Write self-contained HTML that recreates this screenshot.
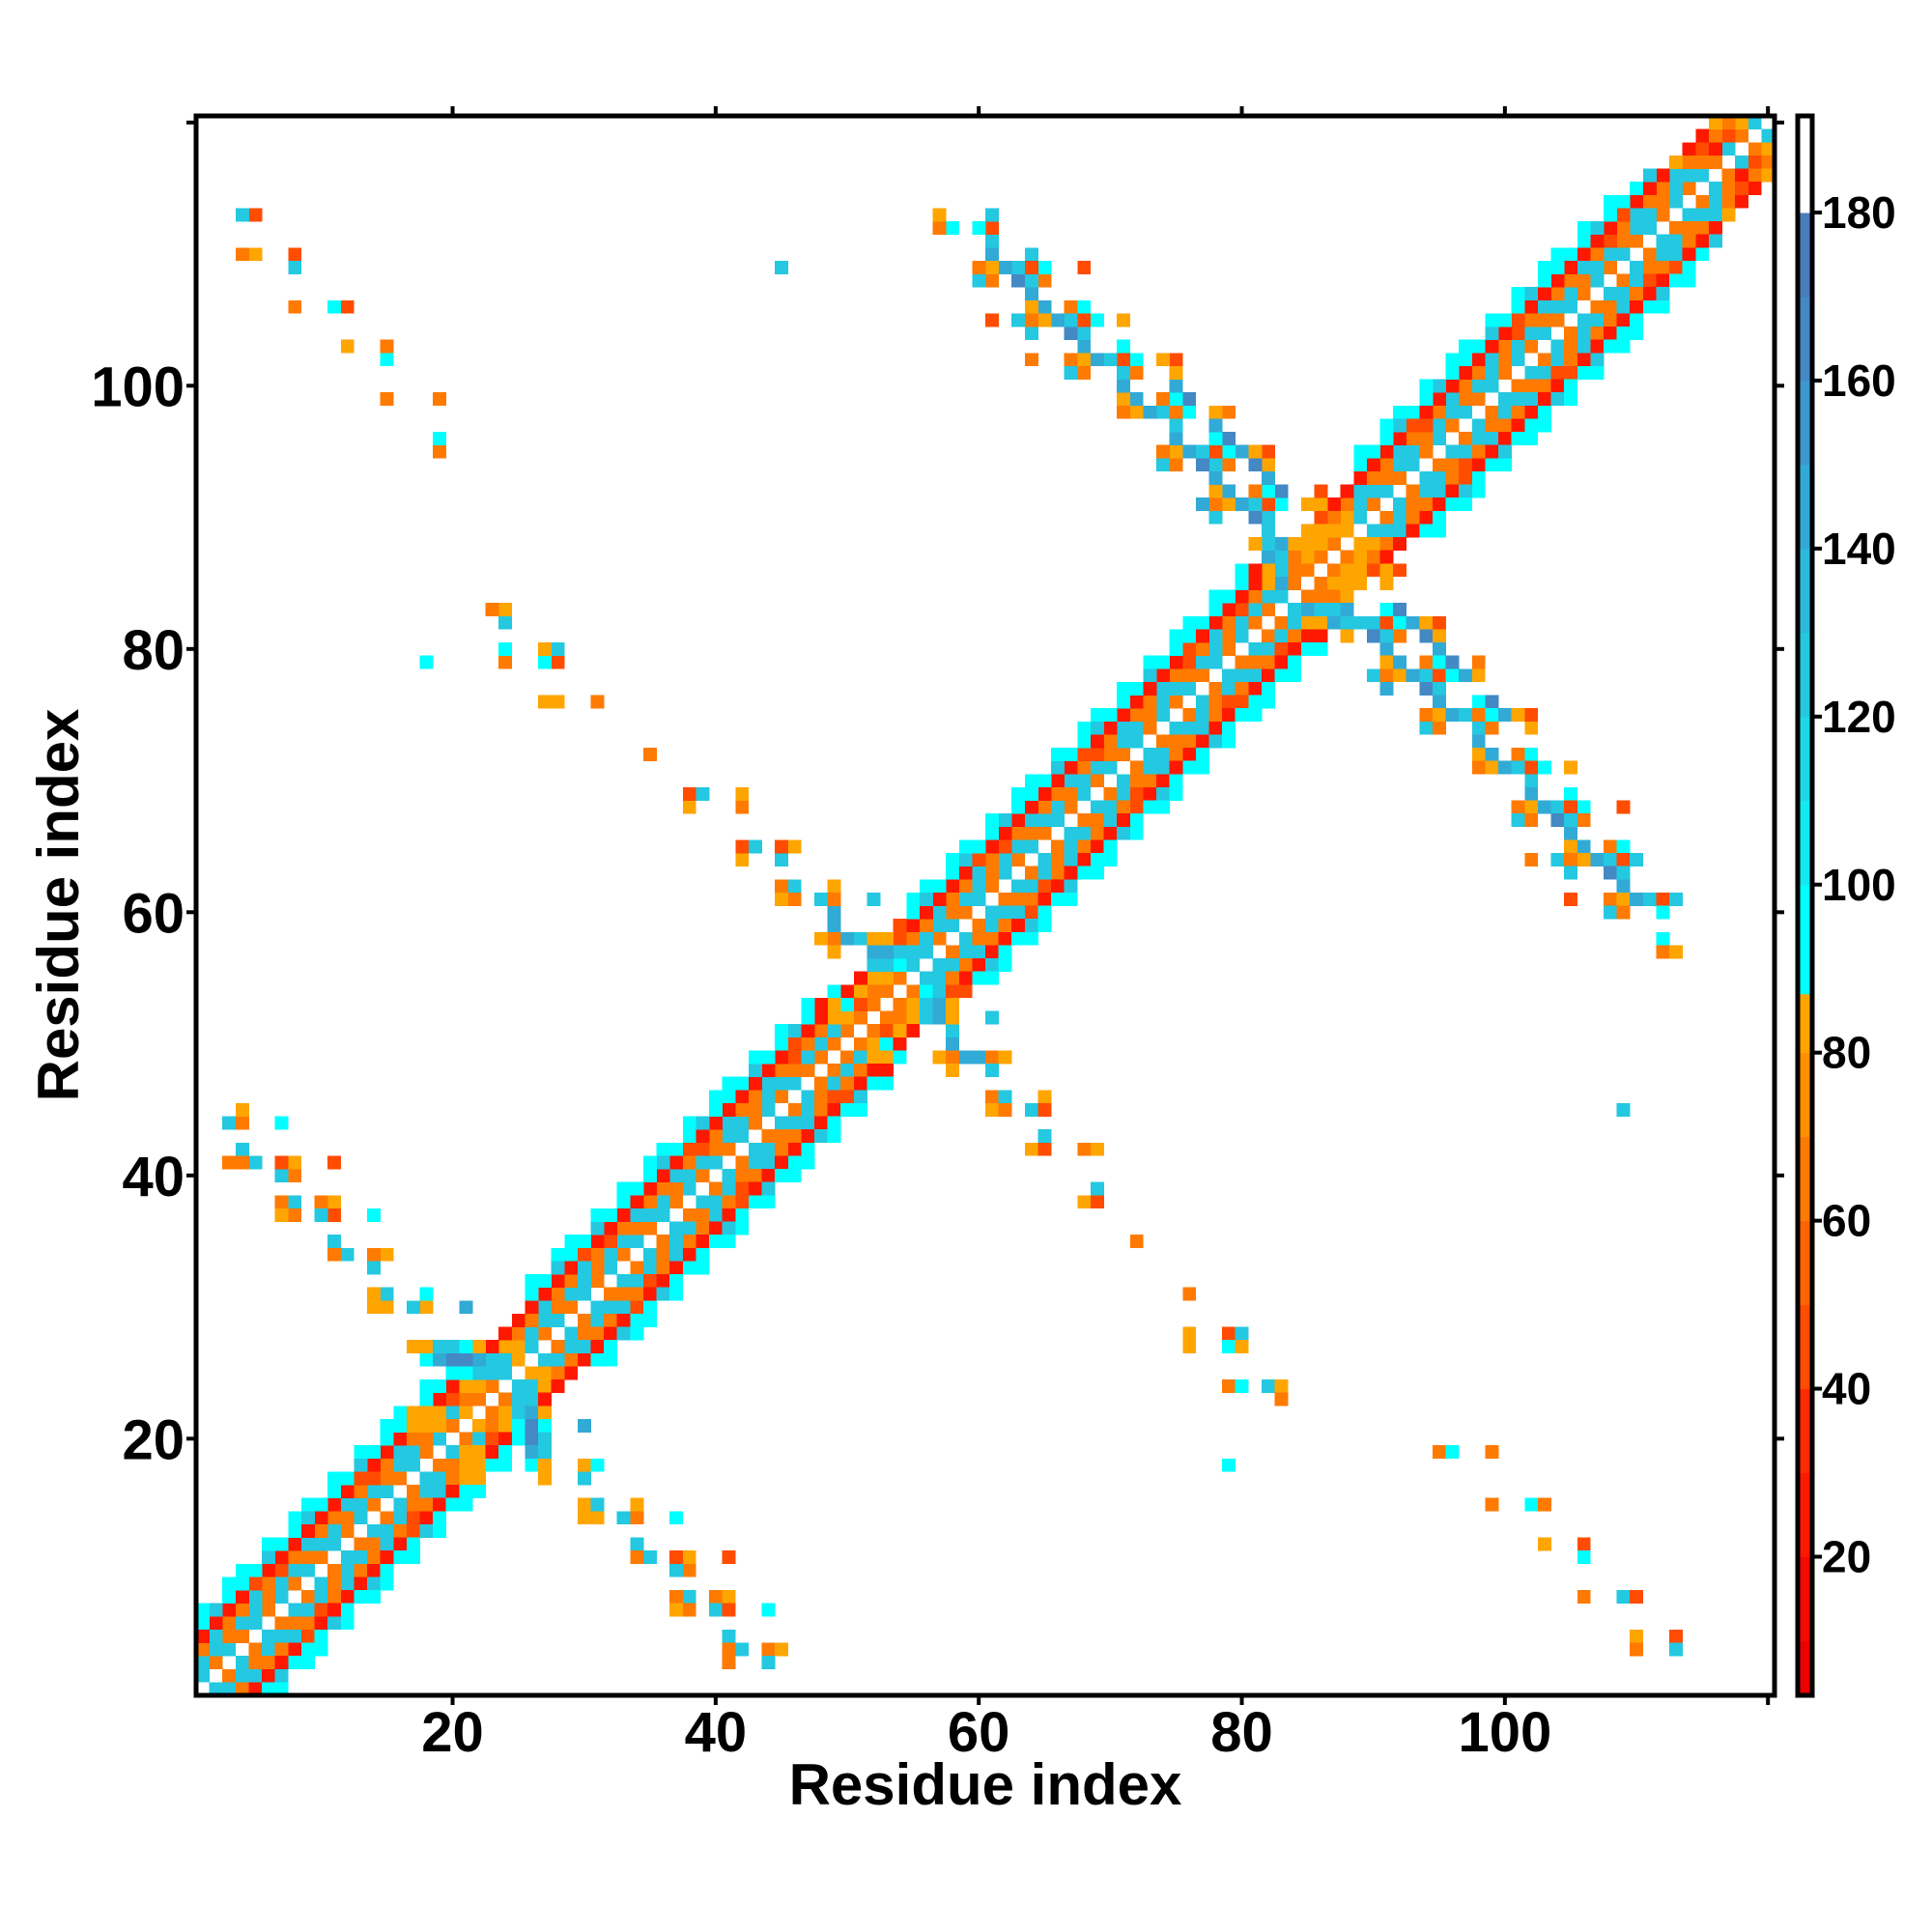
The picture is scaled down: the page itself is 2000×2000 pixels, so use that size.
<!DOCTYPE html>
<html><head><meta charset="utf-8">
<style>
html,body{margin:0;padding:0;background:#fff;}
svg{display:block;font-family:"Liberation Sans",sans-serif;font-weight:bold;}
</style></head>
<body>
<svg id="chart" width="2000" height="2000" viewBox="0 0 2000 2000" xmlns="http://www.w3.org/2000/svg">
<rect width="2000" height="2000" fill="#fff"/>
<g id="cells" shape-rendering="crispEdges"></g>
<g id="frame"></g>
<g id="cbar"></g>
<text x="1020" y="1868" font-size="60" text-anchor="middle">Residue index</text>
<text x="81" y="937" font-size="60" text-anchor="middle" transform="rotate(-90 81 937)">Residue index</text>
</svg>
<script>
// ---- data ----
const nResidues = 120;
const xTicks = [20, 40, 60, 80, 100];
const yTicks = [20, 40, 60, 80, 100];
const cbarTicks = [20, 40, 60, 80, 100, 120, 140, 160, 180];
const codeValue = {r:25, R:45, o:65, a:82, c:93, s:125, b:145, B:165};
const colorStops = [
 [10,'#ee0000'],[20,'#f50a00'],[30,'#ff1800'],[40,'#ff2a00'],[50,'#ff4c00'],[60,'#ff6400'],
 [70,'#ff7a00'],[80,'#ff9000'],[87,'#ffa500'],[100,'#00ffff'],[110,'#12eaf2'],[120,'#1cd8e8'],
 [130,'#24c8e0'],[140,'#2cbadc'],[150,'#32aad6'],[160,'#3c98ce'],[170,'#4488c4'],[180,'#4a7cbc'],[192,'#ffffff']];
const cbarMin = 3.5, cbarMax = 191.5;
// band codes for pairs (i, i+d), i = 1..120
const band1 = "sosososososososososo"+"aoaoa"+"sosososososososososososo"+"aoaoao"+"sosososososososososososososo"+"aoaoa"+"sosososososososososososososososo";
const band2 = "ssossossossossossoss"+"aaaaa"+"ssossossossossossossosso"+"aaaaaa"+"ssossossossossossossossossos"+"aaaaa"+"ssossossossossossossossossossoss";
const band3 = "osoosoRosoosoRosooso"+"aaaao"+"osoosoRosoosoRosoosoRoso"+"aaaaaa"+"osoosoRosoosoRosoosoRosooso"+"aaaoo"+"osoosoRosoosoRosoosoRosoosoRoooo";
const band4 = "rrrrRrrrrrrrRrrrrrrr"+"RRrrr"+"rrrrRrrrrrrrRrrrrrrrRrrr"+"rrRRrr"+"rrrrRrrrrrrrRrrrrrrrRrrrrrrr"+"rRRrr"+"rrrrRrrrrrrrRrrrrrrrRrrrrrrrRrrr";
const band5 = "cscccsccscccscccsccc"+"....."+"ccsccsccccsccscccsccsccc"+"......"+"cccsccscccsccscccsccccscccsc"+"....."+"cccsccscccsccsccccscccs........."; 
const band6 = "c.cc.c.cc.c.c.cc.c.."+"....."+"c.cc.c.c.cc.c.cc.c.c.c.."+"......"+"c.cc.c.cc.c.cc.c.c.cc.c.c.c."+"....."+"c.cc.c.cc.c.c.cc.c.c............";
// off-band contacts [x, y, code] with x > y (matrix is symmetric)
const contacts = [
[30,21,'b'],[26,18,'c'],[27,18,'a'],[27,17,'a'],[30,18,'a'],[31,18,'c'],[30,17,'s'],
[30,15,'a'],[31,15,'s'],[30,14,'a'],[31,14,'a'],[33,14,'s'],[34,15,'a'],[34,14,'o'],[37,14,'c'],
[34,12,'s'],[34,11,'o'],[35,11,'s'],[37,11,'R'],[38,11,'a'],[37,10,'s'],[38,10,'o'],[41,11,'R'],
[37,8,'o'],[38,8,'s'],[37,7,'a'],[38,7,'o'],[40,8,'o'],[41,8,'a'],[40,7,'s'],[41,7,'R'],[44,7,'c'],
[41,5,'s'],[41,4,'o'],[42,4,'s'],[41,3,'o'],[44,4,'o'],[45,4,'a'],[44,3,'s'],
[25,24,'s'],[25,23,'s'],[25,22,'s'],[25,21,'c'],[26,24,'s'],[26,23,'s'],[26,22,'b'],[26,21,'B'],[26,20,'B'],[26,19,'b'],
[27,22,'a'],[27,21,'c'],[27,20,'s'],[27,19,'s'],[21,19,'a'],[22,19,'a'],[21,18,'a'],[22,18,'a'],
[24,21,'a'],[24,22,'a'],[24,23,'o'],[23,20,'R'],[23,21,'o'],[23,22,'o'],[22,17,'a'],[21,17,'a'],
[61,52,'s'],[58,51,'s'],[58,50,'b'],[57,49,'a'],[58,49,'o'],[59,49,'b'],[60,49,'b'],[61,49,'o'],[62,49,'a'],
[58,48,'a'],[61,48,'s'],[61,46,'o'],[62,46,'s'],[65,46,'a'],[61,45,'a'],[62,45,'o'],[64,45,'s'],[65,45,'R'],
[65,43,'s'],[64,42,'a'],[65,42,'R'],[68,42,'o'],[69,42,'a'],[69,39,'s'],[68,38,'a'],[69,38,'R'],[72,35,'o'],
[76,31,'o'],[76,28,'a'],[79,28,'R'],[80,28,'s'],[76,27,'a'],[79,27,'c'],[80,27,'a'],[79,24,'o'],[80,24,'c'],
[82,24,'s'],[83,24,'a'],[83,23,'o'],[79,18,'c'],[109,45,'s'],
[53,52,'o'],[54,52,'o'],[55,52,'a'],[56,52,'s'],[57,52,'b'],[58,52,'a'],[54,53,'o'],[55,53,'a'],[56,53,'s'],[57,53,'b'],[58,53,'a'],
[55,54,'o'],[56,54,'c'],[57,54,'s'],[58,54,'R'],[59,54,'R'],[56,55,'s'],[57,55,'s'],[58,55,'o'],[59,55,'r'],[60,55,'c'],[61,55,'c'],
[57,56,'s'],[58,56,'s'],[59,56,'o'],[60,56,'r'],[61,56,'s'],[62,56,'c'],[58,57,'o'],[52,51,'o'],[53,51,'R'],[54,51,'a'],
[51,50,'o'],[52,50,'a'],[53,50,'c'],[50,49,'o'],[51,49,'s'],[52,49,'a'],[53,49,'a'],[49,48,'o'],[50,48,'s'],[51,48,'o'],[52,48,'r'],[53,48,'r'],
[87,86,'o'],[88,86,'a'],[89,86,'a'],[91,86,'a'],[92,86,'R'],
[86,85,'o'],[87,85,'a'],[88,85,'a'],[89,85,'a'],[91,85,'a'],
[85,84,'o'],[86,84,'o'],[87,84,'o'],[88,84,'a'],
[84,83,'s'],[85,83,'b'],[86,83,'s'],[87,83,'s'],[88,83,'b'],[91,83,'c'],[92,83,'B'],
[83,82,'o'],[84,82,'s'],[85,82,'a'],[86,82,'a'],[87,82,'b'],[88,82,'s'],[89,82,'s'],[90,82,'s'],[91,82,'R'],[92,82,'c'],[93,82,'b'],[94,82,'a'],[95,82,'R'],
[82,81,'o'],[83,81,'s'],[84,81,'o'],[85,81,'r'],[86,81,'r'],[88,81,'a'],[90,81,'B'],[91,81,'s'],[92,81,'o'],[94,81,'B'],[95,81,'a'],
[82,80,'s'],[83,80,'R'],[84,80,'r'],[85,80,'c'],[91,80,'b'],[95,80,'b'],
[82,79,'o'],[83,79,'r'],[84,79,'c'],[91,79,'a'],[92,79,'b'],[94,79,'o'],[95,79,'c'],[96,79,'B'],[98,79,'o'],
[82,78,'r'],[83,78,'c'],[90,78,'s'],[91,78,'o'],[92,78,'a'],[93,78,'b'],[94,78,'s'],[95,78,'R'],[96,78,'c'],[97,78,'b'],[98,78,'a'],
[81,77,'r'],[82,77,'c'],[91,77,'b'],[94,77,'B'],[95,77,'s'],
[81,76,'c'],[95,76,'b'],[98,76,'c'],[99,76,'B'],
[81,75,'c'],[94,75,'o'],[95,75,'a'],[96,75,'b'],[97,75,'s'],[98,75,'o'],[99,75,'c'],[100,75,'b'],[101,75,'a'],[102,75,'R'],
[94,74,'s'],[95,74,'o'],[98,74,'s'],[99,74,'o'],[102,74,'a'],
[98,73,'b'],[98,72,'a'],[99,72,'b'],[101,72,'o'],[102,72,'c'],
[98,71,'o'],[99,71,'a'],[100,71,'b'],[101,71,'s'],[102,71,'R'],[103,71,'c'],[105,71,'a'],
[102,70,'s'],[102,69,'b'],[105,69,'c'],
[101,68,'o'],[102,68,'a'],[103,68,'b'],[104,68,'s'],[105,68,'R'],[106,68,'c'],[109,68,'R'],
[101,67,'s'],[102,67,'o'],[104,67,'B'],[105,67,'s'],[106,67,'o'],
[105,66,'b'],[105,65,'a'],[106,65,'b'],[108,65,'o'],[109,65,'c'],
[102,64,'o'],[104,64,'s'],[105,64,'o'],[106,64,'a'],[107,64,'b'],[108,64,'s'],[109,64,'R'],[110,64,'s'],
[105,63,'s'],[108,63,'B'],[109,63,'s'],[109,62,'b'],
[105,61,'R'],[108,61,'o'],[109,61,'a'],[110,61,'b'],[111,61,'s'],[112,61,'R'],[113,61,'s'],
[108,60,'s'],[109,60,'o'],[112,60,'c'],[112,58,'c'],[112,57,'o'],[113,57,'a'],
[95,19,'o'],[96,19,'c'],[99,19,'o'],[99,15,'o'],[102,15,'c'],[103,15,'o'],[103,12,'a'],[106,12,'R'],[106,11,'c'],
[106,8,'o'],[109,8,'s'],[110,8,'R'],[110,5,'a'],[110,4,'o'],[113,5,'R'],[113,4,'s'],
[117,113,'a'],[118,114,'r'],[119,115,'r'],[120,116,'a'],[118,116,'r'],[119,117,'R'],[120,118,'a'],[117,115,'o']
];

// ---- geometry ----
const X0 = 203, X1 = 1837, Y0 = 1755, Y1 = 120;
const cw = (X1 - X0) / nResidues, ch = (Y0 - Y1) / nResidues;
function xScale(v){ return X0 + (v - 0.5) * cw; }
function yScale(v){ return Y0 - (v - 0.5) * ch; }
function cbScale(v){ return Y0 - (v - cbarMin) / (cbarMax - cbarMin) * (Y0 - Y1); }
function colorOf(v){ for (const s of colorStops) { if (v < s[0]) return s[1]; } return '#ffffff'; }
const NS = 'http://www.w3.org/2000/svg';
function mk(tag, attrs, parent){ const e = document.createElementNS(NS, tag); for (const k in attrs) e.setAttribute(k, attrs[k]); parent.appendChild(e); return e; }

// ---- build matrix ----
const cellMap = new Map();
const bands = [band1, band2, band3, band4, band5, band6];
bands.forEach((str, k) => {
  const d = k + 1;
  for (let i = 1; i + d <= nResidues; i++) {
    const c = str[i - 1];
    if (c && codeValue[c] !== undefined) cellMap.set((i + d) + ',' + i, codeValue[c]);
  }
});
contacts.forEach(c => cellMap.set(c[0] + ',' + c[1], codeValue[c[2]]));

const gCells = document.getElementById('cells');
cellMap.forEach((v, key) => {
  const [x, y] = key.split(',').map(Number);
  [[x, y], [y, x]].forEach(p => {
    const r = mk('rect', {x: xScale(p[0] - 0.5).toFixed(2), y: yScale(p[1] + 0.5).toFixed(2),
      width: (cw + 0.3).toFixed(2), height: (ch + 0.3).toFixed(2), fill: colorOf(v)}, gCells);
    
    
  });
});

// ---- frame & ticks ----
const gF = document.getElementById('frame');
const fr = mk('rect', {x: X0, y: Y1, width: X1 - X0, height: Y0 - Y1, fill: 'none', stroke: '#000', 'stroke-width': 5}, gF);


const allTicks = [20, 40, 60, 80, 100, 120];
allTicks.forEach(t => {
  const px = xScale(t), py = yScale(t);
  mk('line', {x1: px, x2: px, y1: Y0, y2: Y0 + 10, stroke: '#000', 'stroke-width': 4}, gF);
  mk('line', {x1: px, x2: px, y1: Y1, y2: Y1 - 10, stroke: '#000', 'stroke-width': 4}, gF);
  mk('line', {x1: X0, x2: X0 - 10, y1: py, y2: py, stroke: '#000', 'stroke-width': 4}, gF);
  mk('line', {x1: X1, x2: X1 + 10, y1: py, y2: py, stroke: '#000', 'stroke-width': 4}, gF);
});
xTicks.forEach(t => {
  const tx = mk('text', {x: xScale(t), y: 1813, 'font-size': 58, 'text-anchor': 'middle'}, gF);
  tx.textContent = t;
  
  
});
yTicks.forEach(t => {
  const tx = mk('text', {x: 191, y: yScale(t) + 21, 'font-size': 58, 'text-anchor': 'end'}, gF);
  tx.textContent = t;
  
  
});

// ---- colorbar ----
const gC = document.getElementById('cbar');
let prev = cbarMin;
colorStops.forEach(s => {
  const hi = Math.min(s[0], cbarMax);
  if (hi <= prev) return;
  const r = mk('rect', {x: 1862, y: cbScale(hi), width: 13, height: cbScale(prev) - cbScale(hi) + 0.5, fill: s[1]}, gC);
  
  
  prev = hi;
});
const cb = mk('rect', {x: 1861, y: Y1, width: 15, height: Y0 - Y1, fill: 'none', stroke: '#000', 'stroke-width': 5}, gC);


cbarTicks.forEach(t => {
  const py = cbScale(t);
  mk('line', {x1: 1876, x2: 1886, y1: py, y2: py, stroke: '#000', 'stroke-width': 4}, gC);
  const tx = mk('text', {x: 1886, y: py + 16, 'font-size': 46}, gC);
  tx.textContent = t;
  
  
});
</script>
</body></html>
